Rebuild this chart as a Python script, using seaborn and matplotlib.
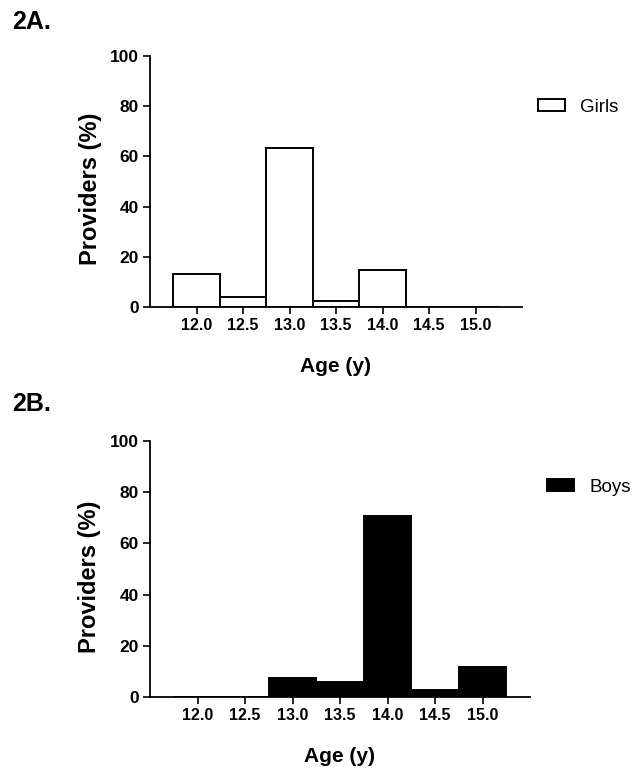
import matplotlib
matplotlib.use("Agg")
import matplotlib.pyplot as plt
import seaborn as sns
import pandas as pd
from matplotlib.patches import Patch

ages = ["12.0", "12.5", "13.0", "13.5", "14.0", "14.5", "15.0"]
girls = [13.0, 4.0, 63.2, 2.4, 14.7, 0.0, 0.0]
boys = [0.0, 0.0, 7.6, 5.7, 70.6, 2.6, 11.7]
yticks = [0, 20, 40, 60, 80, 100]

sns.set_theme(style="ticks")
plt.rcParams['font.family'] = ['Liberation Sans', 'DejaVu Sans']
plt.rcParams['text.color'] = 'black'
plt.rcParams['axes.labelcolor'] = 'black'
plt.rcParams['xtick.color'] = 'black'
plt.rcParams['ytick.color'] = 'black'

fig = plt.figure(figsize=(6.36, 7.71), dpi=100)
axA = fig.add_axes([150/636, 1-307/771, (522-150)/636, (307-56)/771])
axB = fig.add_axes([150/636, 1-697/771, (530-150)/636, (697-441)/771])

def draw(ax, vals, color, label, leg_xy):
    df = pd.DataFrame({"Age": ages, "Pct": vals})
    sns.barplot(data=df, x="Age", y="Pct", order=ages, color=color,
                edgecolor="black", linewidth=1.4, width=1.0, saturation=1,
                ax=ax, errorbar=None)
    ax.set_xlim(-1, 7)
    ax.set_ylim(0, 100)
    ax.set_yticks(yticks)
    ax.set_yticklabels([str(t) for t in yticks], fontsize=12.5, fontweight="bold")
    ax.set_xticks(range(len(ages)))
    ax.set_xticklabels(ages, fontsize=11.5, fontweight="bold")
    ax.tick_params(axis="both", length=5, width=1.2, color="black", pad=3)
    for s in ["top", "right"]:
        ax.spines[s].set_visible(False)
    for s in ["left", "bottom"]:
        ax.spines[s].set_linewidth(1.3)
        ax.spines[s].set_color("black")
    ax.set_ylabel("Providers (%)", fontsize=17, fontweight="bold")
    ax.set_xlabel("Age (y)", fontsize=15, fontweight="bold", labelpad=17)
    ax.yaxis.set_label_coords(-48/372, 0.47)
    handle = Patch(facecolor=color, edgecolor="black", linewidth=1.4, label=label)
    fig.legend(handles=[handle], loc="center left", bbox_to_anchor=leg_xy,
               bbox_transform=fig.transFigure, frameon=False, fontsize=13.5,
               handlelength=1.45, handleheight=0.65, handletextpad=0.8,
               borderaxespad=0, borderpad=0)

draw(axA, girls, "white", "Girls", (538/636, 1-107/771))
draw(axB, boys, "black", "Boys", (547/636, 1-487/771))

fig.text(12/636, 1-22/771, "2A.", fontsize=18, fontweight="bold", va="center", ha="left")
fig.text(12/636, 1-404/771, "2B.", fontsize=18, fontweight="bold", va="center", ha="left")

fig.savefig("out.png", dpi=100, facecolor="white")
